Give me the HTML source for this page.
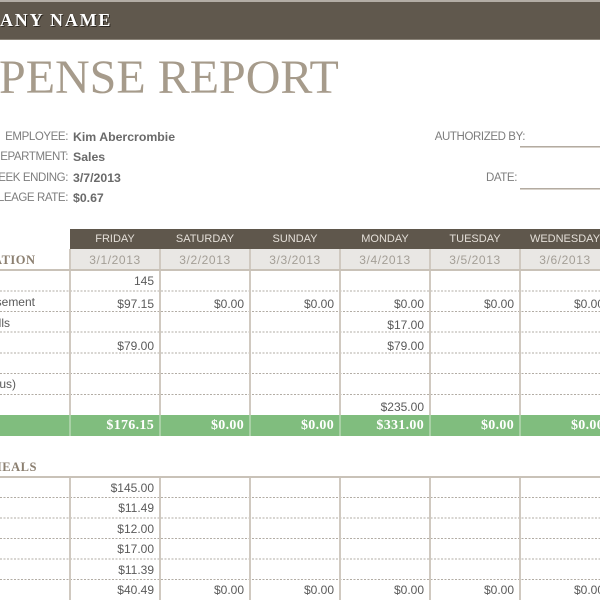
<!DOCTYPE html>
<html><head><meta charset="utf-8"><style>
html,body{margin:0;padding:0;background:#fff;}
#c{position:relative;width:600px;height:600px;overflow:hidden;background:#fff;font-family:"Liberation Sans",Arial,sans-serif;}
.a{position:absolute;white-space:nowrap;}
.t{position:absolute;white-space:nowrap;font-size:12px;line-height:14px;color:#5a5a5a;}
.r{text-align:right;width:84px;}
.h{position:absolute;font-size:11px;line-height:14px;color:#e4dfd8;text-align:center;width:90px;}
.d{position:absolute;font-size:12px;line-height:14px;color:#a39e96;text-align:center;width:90px;letter-spacing:0.6px;}
.g{position:absolute;font-family:"Liberation Serif",serif;font-weight:bold;font-size:14px;line-height:14px;color:#fff;text-align:right;width:84px;letter-spacing:0.3px;}
.lab{position:absolute;font-size:11.5px;line-height:14px;color:#7d7d7d;text-align:right;width:200px;letter-spacing:-0.4px;}
.val{position:absolute;font-size:12.3px;line-height:14px;color:#6a6a6a;font-weight:bold;}
</style></head><body><div id="c">

<div class="a" style="left:0;top:0;width:600px;height:2px;background:#b3ada5;"></div>
<div class="a" style="left:0;top:2px;width:600px;height:37px;background:#60584d;"></div>
<div class="a" style="left:0;top:39px;width:600px;height:1px;background:#8a8378;"></div>
<div class="a" style="left:0;top:9px;font-family:'Liberation Serif',serif;font-weight:bold;font-size:18px;line-height:22px;color:#fff;letter-spacing:1.8px;text-shadow:1px 1px 0 #2b261f;">ANY NAME</div>

<div class="a" style="left:-1px;top:51px;font-family:'Liberation Serif',serif;font-size:48px;line-height:54px;color:#a69b8b;">PENSE REPORT</div>

<div class="lab" style="left:-132px;top:130px;">EMPLOYEE:</div>
<div class="lab" style="left:-132px;top:150px;">EPARTMENT:</div>
<div class="lab" style="left:-132px;top:171px;">EEK ENDING:</div>
<div class="lab" style="left:-132px;top:191px;">LEAGE RATE:</div>
<div class="val" style="left:73px;top:130px;">Kim Abercrombie</div>
<div class="val" style="left:73px;top:150px;">Sales</div>
<div class="val" style="left:73px;top:171px;">3/7/2013</div>
<div class="val" style="left:73px;top:191px;">$0.67</div>

<div class="lab" style="left:325px;top:130px;width:200px;">AUTHORIZED BY:</div>
<div class="lab" style="left:317px;top:171px;width:200px;">DATE:</div>
<div class="a" style="left:520px;top:146px;width:80px;height:1px;background:#b3aba1;border-bottom:1px solid #d8d2ca;"></div>
<div class="a" style="left:520px;top:188px;width:80px;height:1px;background:#b3aba1;border-bottom:1px solid #d8d2ca;"></div>

<div class="a" style="left:70px;top:229px;width:530px;height:20px;background:#5f574c;"></div>
<div class="a" style="left:70px;top:249px;width:530px;height:21px;background:#e9e7e4;"></div>
<div class="h" style="left:70px;top:232px;">FRIDAY</div>
<div class="h" style="left:160px;top:232px;">SATURDAY</div>
<div class="h" style="left:250px;top:232px;">SUNDAY</div>
<div class="h" style="left:340px;top:232px;">MONDAY</div>
<div class="h" style="left:430px;top:232px;">TUESDAY</div>
<div class="h" style="left:520px;top:232px;">WEDNESDAY</div>
<div class="d" style="left:70px;top:252.5px;">3/1/2013</div>
<div class="d" style="left:160px;top:252.5px;">3/2/2013</div>
<div class="d" style="left:250px;top:252.5px;">3/3/2013</div>
<div class="d" style="left:340px;top:252.5px;">3/4/2013</div>
<div class="d" style="left:430px;top:252.5px;">3/5/2013</div>
<div class="d" style="left:520px;top:252.5px;">3/6/2013</div>
<div class="a" style="left:-7px;top:253px;font-family:'Liberation Serif',serif;font-weight:bold;font-size:12.5px;line-height:14px;color:#8b7f70;letter-spacing:0.5px;">ATION</div>

<div class="a" style="left:0;top:415px;width:600px;height:21px;background:#80bd7e;"></div>

<svg class="a" style="left:0;top:0;" width="600" height="600">
<g stroke="#b2aca4" stroke-width="1" stroke-dasharray="2,1.5">
<line x1="0" y1="291" x2="600" y2="291"/>
<line x1="0" y1="311.5" x2="600" y2="311.5"/>
<line x1="0" y1="332" x2="600" y2="332"/>
<line x1="0" y1="353" x2="600" y2="353"/>
<line x1="0" y1="373.5" x2="600" y2="373.5"/>
<line x1="0" y1="394.5" x2="600" y2="394.5"/>
<line x1="0" y1="497.5" x2="600" y2="497.5"/>
<line x1="0" y1="518" x2="600" y2="518"/>
<line x1="0" y1="538.5" x2="600" y2="538.5"/>
<line x1="0" y1="559" x2="600" y2="559"/>
<line x1="0" y1="579.5" x2="600" y2="579.5"/>
</g>
<g stroke="#d0c9c0" stroke-width="2">
<line x1="70" y1="249" x2="70" y2="415"/><line x1="160" y1="249" x2="160" y2="415"/>
<line x1="250" y1="249" x2="250" y2="415"/><line x1="340" y1="249" x2="340" y2="415"/>
<line x1="430" y1="249" x2="430" y2="415"/><line x1="520" y1="249" x2="520" y2="415"/>
<line x1="70" y1="477" x2="70" y2="600"/><line x1="160" y1="477" x2="160" y2="600"/>
<line x1="250" y1="477" x2="250" y2="600"/><line x1="340" y1="477" x2="340" y2="600"/>
<line x1="430" y1="477" x2="430" y2="600"/><line x1="520" y1="477" x2="520" y2="600"/>
</g>
<g stroke="#a9d1a6" stroke-width="2">
<line x1="70" y1="415" x2="70" y2="436"/><line x1="160" y1="415" x2="160" y2="436"/>
<line x1="250" y1="415" x2="250" y2="436"/><line x1="340" y1="415" x2="340" y2="436"/>
<line x1="430" y1="415" x2="430" y2="436"/><line x1="520" y1="415" x2="520" y2="436"/>
</g>
<g stroke="#c9c2b8" stroke-width="2">
<line x1="0" y1="270" x2="600" y2="270"/>
<line x1="0" y1="477" x2="600" y2="477"/>
</g>
</svg>

<div class="t" style="left:-100px;width:135px;text-align:right;top:295px;">sement</div>
<div class="t" style="left:-100px;width:110px;text-align:right;top:316px;">lls</div>
<div class="t" style="left:-100px;width:116px;text-align:right;top:377px;">us)</div>

<div class="t r" style="left:70px;top:274px;">145</div>
<div class="t r" style="left:70px;top:297px;">$97.15</div>
<div class="t r" style="left:160px;top:297px;">$0.00</div>
<div class="t r" style="left:250px;top:297px;">$0.00</div>
<div class="t r" style="left:340px;top:297px;">$0.00</div>
<div class="t r" style="left:430px;top:297px;">$0.00</div>
<div class="t r" style="left:520px;top:297px;">$0.00</div>
<div class="t r" style="left:340px;top:318px;">$17.00</div>
<div class="t r" style="left:70px;top:338.5px;">$79.00</div>
<div class="t r" style="left:340px;top:338.5px;">$79.00</div>
<div class="t r" style="left:340px;top:399.5px;">$235.00</div>

<div class="g" style="left:70px;top:418.5px;">$176.15</div>
<div class="g" style="left:160px;top:418.5px;">$0.00</div>
<div class="g" style="left:250px;top:418.5px;">$0.00</div>
<div class="g" style="left:340px;top:418.5px;">$331.00</div>
<div class="g" style="left:430px;top:418.5px;">$0.00</div>
<div class="g" style="left:520px;top:418.5px;">$0.00</div>

<div class="a" style="left:-10px;top:459.5px;font-family:'Liberation Serif',serif;font-weight:bold;font-size:12.5px;line-height:14px;color:#8b7f70;letter-spacing:0.5px;">MEALS</div>
<div class="t r" style="left:70px;top:480.5px;">$145.00</div>
<div class="t r" style="left:70px;top:501px;">$11.49</div>
<div class="t r" style="left:70px;top:521.5px;">$12.00</div>
<div class="t r" style="left:70px;top:542px;">$17.00</div>
<div class="t r" style="left:70px;top:562.5px;">$11.39</div>
<div class="t r" style="left:70px;top:583px;">$40.49</div>
<div class="t r" style="left:160px;top:583px;">$0.00</div>
<div class="t r" style="left:250px;top:583px;">$0.00</div>
<div class="t r" style="left:340px;top:583px;">$0.00</div>
<div class="t r" style="left:430px;top:583px;">$0.00</div>
<div class="t r" style="left:520px;top:583px;">$0.00</div>

</div></body></html>
